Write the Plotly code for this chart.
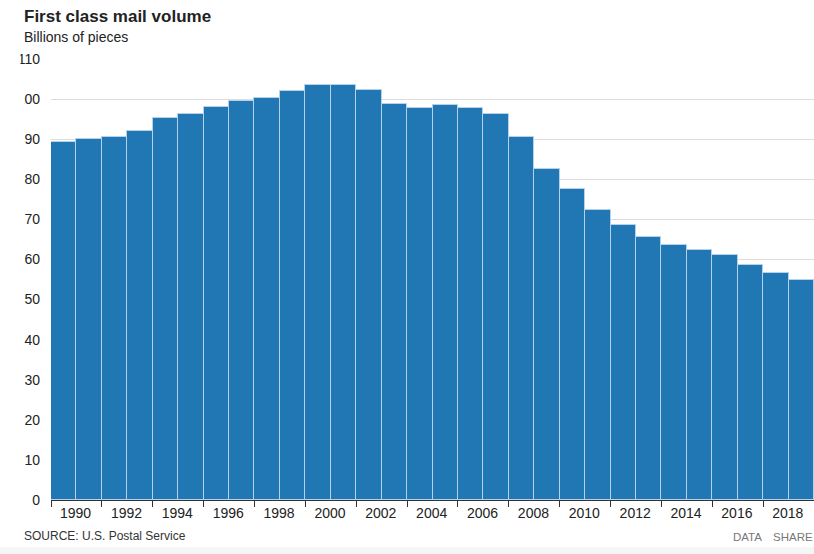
import plotly.graph_objects as go

years = [str(y) for y in range(1990, 2020)]
volume = [89.2, 90.1, 90.6, 92.0, 95.2, 96.2, 98.1, 99.5, 100.3, 101.9,
          103.4, 103.5, 102.2, 98.9, 97.9, 98.5, 97.9, 96.2, 90.5, 82.6,
          77.5, 72.4, 68.6, 65.5, 63.7, 62.4, 61.1, 58.7, 56.5, 54.8]
y_ticks = [0, 10, 20, 30, 40, 50, 60, 70, 80, 90, 100, 110]
x_tick_labels = [str(y) for y in range(1990, 2020, 2)]

FONT = "Liberation Sans, Arial, Helvetica, sans-serif"

fig = go.Figure(go.Bar(
    x=[y + "-01-01" for y in years],
    y=volume,
    xperiod="M12",
    xperiodalignment="middle",
    marker=dict(color="#2077b4", line=dict(color="#b5d2ea", width=1)),
    hovertemplate="%{x|%Y}: %{y}<extra></extra>",
))
# invisible helper trace so the label axis is drawn
fig.add_trace(go.Scatter(x=["1990-01-01"], y=[0], xaxis="x2", mode="markers",
                         marker=dict(opacity=0), hoverinfo="skip", showlegend=False))

W, H = 814, 554
L, R, T, B = 51, 0, 59, 54
pw, ph = W - L - R, H - T - B

def px(x):
    return (x - L) / pw

def py(y):
    return (H - B - y) / ph

tick_dates = [f"{int(y)}-01-01" for y in x_tick_labels] + ["2020-01-01"]
label_dates = [f"{int(y)}-12-20" for y in x_tick_labels]

fig.update_layout(
    width=W, height=H,
    margin=dict(l=L, r=R, t=T, b=B),
    paper_bgcolor="white", plot_bgcolor="white",
    bargap=0,
    showlegend=False,
    font=dict(family=FONT, size=14, color="#222"),
    xaxis=dict(
        type="date",
        range=["1990-01-01", "2020-01-01"],
        tickvals=tick_dates,
        showticklabels=False,
        ticks="outside", ticklen=6, tickcolor="#333", tickwidth=1,
        showline=True, linecolor="#333", linewidth=1,
        showgrid=False, zeroline=False,
    ),
    xaxis2=dict(
        type="date",
        overlaying="x", matches="x", anchor="y", side="bottom",
        tickvals=label_dates, ticktext=x_tick_labels,
        ticks="", ticklabelstandoff=3,
        showline=False, showgrid=False, zeroline=False,
        tickfont=dict(family=FONT, size=14, color="#222"),
    ),
    yaxis=dict(
        range=[0, 110],
        tickvals=y_ticks,
        showgrid=True, gridcolor="#dddddd", gridwidth=1,
        zeroline=False, showline=False,
        ticks="", ticklabelstandoff=10,
        tickfont=dict(family=FONT, size=14, color="#222"),
    ),
    annotations=[
        dict(text="<b>First class mail volume</b>", xref="paper", yref="paper",
             x=px(22), y=py(16.5), xanchor="left", yanchor="middle", showarrow=False,
             font=dict(family=FONT, size=17, color="#222")),
        dict(text="Billions of pieces", xref="paper", yref="paper",
             x=px(22), y=py(37), xanchor="left", yanchor="middle", showarrow=False,
             font=dict(family=FONT, size=14, color="#222")),
        dict(text="SOURCE: U.S. Postal Service", xref="paper", yref="paper",
             x=px(22), y=py(536), xanchor="left", yanchor="middle", showarrow=False,
             font=dict(family=FONT, size=12, color="#333")),
        dict(text="DATA", xref="paper", yref="paper",
             x=px(731), y=py(537), xanchor="left", yanchor="middle", showarrow=False,
             font=dict(family=FONT, size=11.5, color="#777")),
        dict(text="SHARE", xref="paper", yref="paper",
             x=px(771), y=py(537), xanchor="left", yanchor="middle", showarrow=False,
             font=dict(family=FONT, size=11.5, color="#777")),
    ],
    shapes=[
        dict(type="rect", xref="paper", yref="paper", layer="below",
             x0=px(0), x1=1, y0=py(554), y1=py(547),
             fillcolor="#f6f6f6", line=dict(width=0)),
        dict(type="rect", xref="paper", yref="paper", layer="above",
             x0=px(0), x1=px(20.5), y0=py(75), y1=py(48),
             fillcolor="white", line=dict(width=0)),
        dict(type="rect", xref="paper", yref="paper", layer="above",
             x0=px(0), x1=px(24), y0=py(510), y1=py(75),
             fillcolor="white", line=dict(width=0)),
    ],
)

fig.write_html("out.html")
